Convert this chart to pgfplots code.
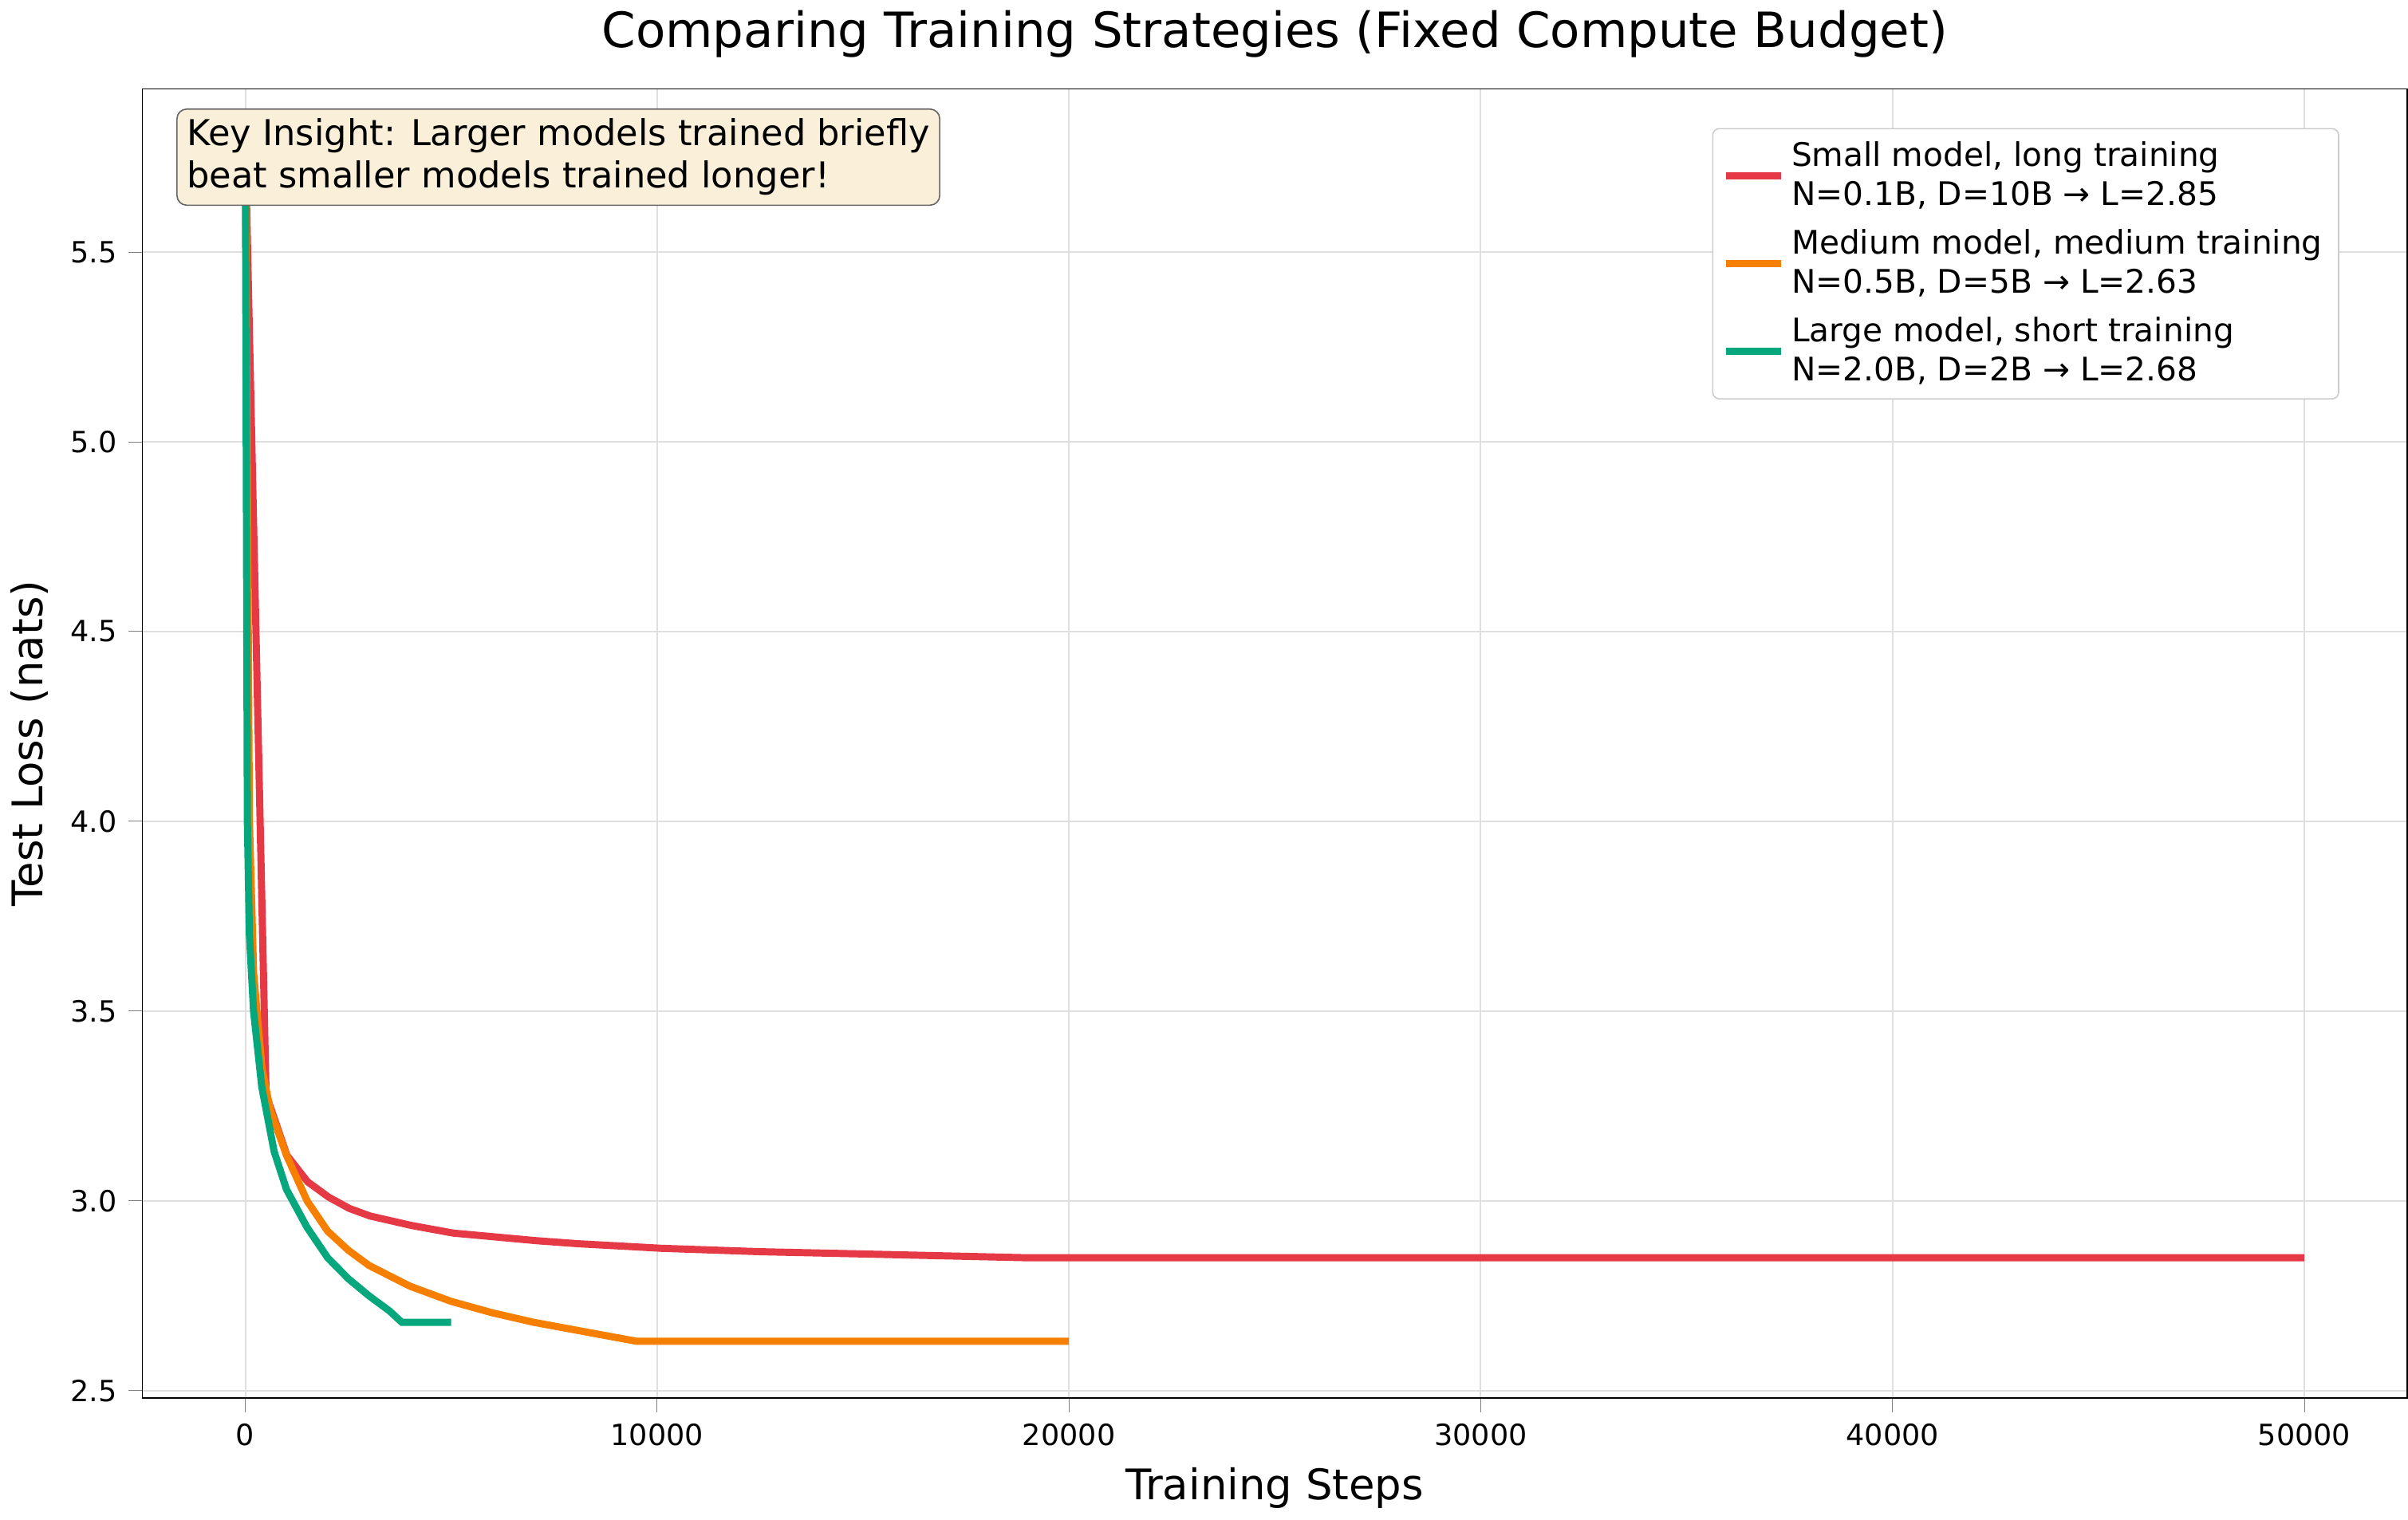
\documentclass[border=0pt]{standalone}
\usepackage{pgfplots}
\pgfplotsset{compat=1.18}
\usepackage{fontspec}
\setmainfont{DejaVu Sans}
\definecolor{cred}{HTML}{E63946}
\definecolor{corange}{HTML}{F77F00}
\definecolor{cgreen}{HTML}{06A77D}
\begin{document}
\begin{tikzpicture}
\begin{axis}[
  scale only axis, width=24.54cm, height=14.19cm,
  xmin=-2500, xmax=52500, ymin=2.48, ymax=5.93,
  xtick={0,10000,20000,30000,40000,50000},
  ytick={2.5,3.0,3.5,4.0,4.5,5.0,5.5},
  /pgf/number format/assume math mode=true,
  xticklabel style={/pgf/number format/.cd,fixed,1000 sep={},precision=0},
  yticklabel style={/pgf/number format/.cd,fixed,fixed zerofill,precision=1},
  scaled x ticks=false,
  tick label style={font=\fontsize{9}{11}\selectfont},
  tick align=outside, tick pos=left,
  grid=major, grid style={gray!25, line width=0.5pt},
  xlabel={Training Steps}, ylabel={Test Loss (nats)},
  label style={font=\fontsize{13}{16}\selectfont},
  title={Comparing Training Strategies (Fixed Compute Budget)},
  title style={font=\fontsize{15}{18}\selectfont},
  legend pos=north east,
  legend cell align=left,
  legend style={font=\fontsize{10}{12}\selectfont, align=left, draw=gray!40, rounded corners=2pt, row sep=2pt},
  every axis plot/.append style={line width=2.2pt},
]
\addplot[cred] coordinates {(0,5.78)(505,3.28)(1010,3.12)(1515,3.05)(2020,3.01)(2525,2.98)(3030,2.96)(4040,2.935)(5050,2.915)(6060,2.905)(7070,2.895)(8080,2.887)(10100,2.875)(12500,2.866)(15000,2.86)(17000,2.855)(19000,2.85)(50000,2.85)};
\addlegendentry{Small model, long training\\N=0.1B, D=10B → L=2.85}
\addplot[corange] coordinates {(0,5.8)(100,4.0)(202,3.6)(404,3.35)(606,3.24)(1000,3.12)(1500,3.0)(2000,2.92)(2500,2.87)(3000,2.83)(4000,2.775)(5000,2.735)(6000,2.705)(7000,2.68)(8000,2.66)(9000,2.64)(9500,2.63)(20000,2.63)};
\addlegendentry{Medium model, medium training\\N=0.5B, D=5B → L=2.63}
\addplot[cgreen] coordinates {(0,5.8)(50,4.0)(100,3.7)(200,3.5)(400,3.3)(700,3.13)(1000,3.03)(1500,2.93)(2000,2.85)(2500,2.795)(3000,2.75)(3500,2.71)(3800,2.68)(5000,2.68)};
\addlegendentry{Large model, short training\\N=2.0B, D=2B → L=2.68}
\node[anchor=north west, align=left, fill={rgb,255:red,250;green,239;blue,217}, draw=gray!80!black, rounded corners=3pt, font=\fontsize{11}{13}\selectfont, inner sep=3pt] at (axis description cs:0.015,0.985) {Key Insight: Larger models trained briefly\\beat smaller models trained longer!};
\end{axis}
\end{tikzpicture}
\end{document}
